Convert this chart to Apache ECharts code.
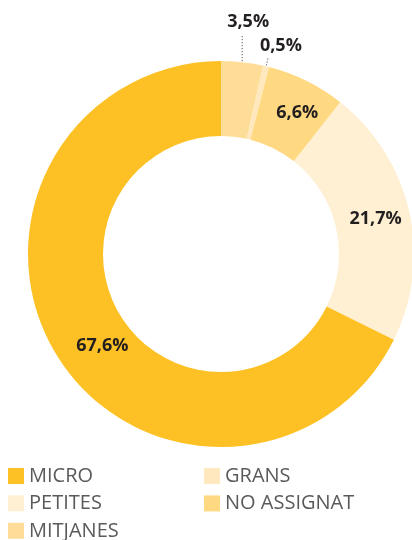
<!DOCTYPE html>
<html><head><meta charset="utf-8">
<script src="https://cdn.jsdelivr.net/npm/echarts@6/dist/echarts.min.js"></script>
<style>html,body{margin:0;padding:0;background:#fff}#c{width:412px;height:540px}</style>
</head><body><div id="c"></div>
<script>
const categories = ['MITJANES', 'GRANS', 'NO ASSIGNAT', 'PETITES', 'MICRO'];
const values = [3.5, 0.5, 6.6, 21.7, 67.6];
const colors = ['#FEDD99', '#FFE8BE', '#FFD982', '#FFF0D3', '#FDC125'];
const legendLeft = ['MICRO', 'PETITES', 'MITJANES'];
const legendRight = ['GRANS', 'NO ASSIGNAT'];
const outsideLabels = ['MITJANES', 'GRANS'];

const FONT = '"Open Sans", "Noto Sans", sans-serif';

const data = categories.map((name, i) => {
  const outside = outsideLabels.includes(name);
  return {
    name: name,
    value: values[i],
    itemStyle: { color: colors[i] },
    label: { position: outside ? 'outside' : 'inside' },
    labelLine: { show: outside }
  };
});

const legendStyle = {
  orient: 'vertical',
  top: 466,
  height: 100,
  padding: 0,
  itemWidth: 16,
  itemHeight: 16,
  itemGap: 7.4,
  icon: 'rect',
  textStyle: { fontFamily: FONT, fontSize: 20, lineHeight: 20, color: '#5a5a5a' }
};

// small visual nudges of the inside labels (label styling only)
const insideNudge = { 'NO ASSIGNAT': [6, 1], 'PETITES': [0, 0], 'MICRO': [16, 8] };

const chart = echarts.init(document.getElementById('c'), null, { renderer: 'canvas' });
chart.setOption({
  animation: false,
  color: colors,
  legend: [
    Object.assign({ left: 8, data: legendLeft }, legendStyle),
    Object.assign({ left: 204, data: legendRight }, legendStyle)
  ],
  series: [{
    type: 'pie',
    center: [221, 254],
    radius: [118, 193],
    startAngle: 90,
    clockwise: true,
    avoidLabelOverlap: false,
    data: data,
    label: {
      show: true,
      fontFamily: FONT,
      fontSize: 18,
      fontWeight: 'bold',
      color: '#231F20',
      formatter: p => p.value.toFixed(1).replace('.', ',') + '%'
    },
    labelLine: {
      length: 10,
      length2: 0,
      lineStyle: { color: '#333', width: 1, type: [1, 2] }
    },
    labelLayout: function (p) {
      const name = categories[p.dataIndex];
      if (!outsideLabels.includes(name)) {
        const n = insideNudge[name] || [0, 0];
        return { dx: n[0], dy: n[1] };
      }
      if (!p.labelLinePoints) return {};
      const a = p.labelLinePoints[0], b = p.labelLinePoints[1];
      let dx = b[0] - a[0], dy = b[1] - a[1];
      const L = Math.hypot(dx, dy) || 1; dx /= L; dy /= L;
      let outer = 10, offX = -8.5, offY = -10.5;
      if (name === 'MITJANES') { dx = 0; dy = -1; outer = 27; offX = -15; offY = -13.5; }
      const inner = 11;
      const s = [a[0] - dx * inner, a[1] - dy * inner];
      const e = [a[0] + dx * outer, a[1] + dy * outer];
      return { x: e[0] + offX, y: e[1] + offY, align: 'left', verticalAlign: 'middle', labelLinePoints: [s, e] };
    }
  }]
});
</script>
</body></html>
